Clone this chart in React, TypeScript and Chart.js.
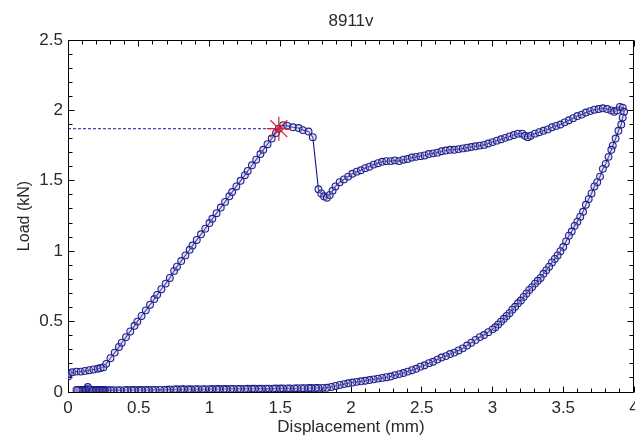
import React, { useEffect, useRef } from "react";
import { Chart, registerables } from "chart.js";

Chart.register(...registerables);

// ---- text ----
const titleText = "8911v";
const xAxisLabel = "Displacement (mm)";
const yAxisLabel = "Load (kN)";

// ---- tick labels ----
const xTickValues = [0, 0.5, 1, 1.5, 2, 2.5, 3, 3.5, 4];
const yTickValues = [0, 0.5, 1, 1.5, 2, 2.5];

// ---- loading branch (0 -> peak) ----
const loadX = [0.00, 0.005, 0.03, 0.06, 0.09, 0.12, 0.15, 0.18, 0.21, 0.23,
  0.25, 0.27, 0.30, 0.33, 0.36, 0.38, 0.41, 0.44, 0.47, 0.49,
  0.52, 0.55, 0.58, 0.61, 0.63, 0.66, 0.69, 0.72, 0.75, 0.77,
  0.80, 0.83, 0.86, 0.88, 0.91, 0.94, 0.97, 1.00, 1.02, 1.05,
  1.08, 1.11, 1.14, 1.16, 1.19, 1.22, 1.25, 1.27, 1.30, 1.33,
  1.36, 1.38, 1.41, 1.44, 1.47, 1.49];
const loadY = [0.11, 0.13, 0.14, 0.145, 0.145, 0.15, 0.155, 0.16, 0.165, 0.17,
  0.175, 0.20, 0.24, 0.28, 0.32, 0.35, 0.39, 0.43, 0.47, 0.50,
  0.54, 0.58, 0.62, 0.66, 0.69, 0.73, 0.77, 0.81, 0.86, 0.89,
  0.93, 0.97, 1.01, 1.04, 1.08, 1.12, 1.16, 1.20, 1.23, 1.27,
  1.31, 1.35, 1.39, 1.42, 1.46, 1.50, 1.54, 1.57, 1.61, 1.65,
  1.69, 1.72, 1.76, 1.80, 1.84, 1.87];

// ---- post-peak, drop and hardening branch ----
const softX = [1.52, 1.55, 1.59, 1.63, 1.66, 1.70, 1.73, 1.77, 1.79, 1.81,
  1.83, 1.85, 1.87, 1.89, 1.92, 1.95, 1.98, 2.01, 2.04, 2.07,
  2.10, 2.13, 2.16, 2.19, 2.22, 2.25, 2.28, 2.31, 2.34, 2.37,
  2.40, 2.43, 2.46, 2.49, 2.52, 2.55, 2.58, 2.61, 2.64, 2.67,
  2.70, 2.73, 2.76, 2.79, 2.82, 2.85, 2.88, 2.91, 2.94, 2.97,
  3.00, 3.03, 3.06, 3.09, 3.12, 3.15, 3.18, 3.21, 3.23, 3.25,
  3.27, 3.30, 3.33, 3.36, 3.39, 3.42, 3.45, 3.48, 3.51, 3.54,
  3.57, 3.60, 3.63, 3.66, 3.69, 3.72, 3.75, 3.78, 3.81, 3.84,
  3.86, 3.88, 3.90, 3.92];
const softY = [1.895, 1.89, 1.88, 1.875, 1.86, 1.85, 1.81, 1.44, 1.41, 1.39,
  1.38, 1.40, 1.43, 1.46, 1.49, 1.51, 1.53, 1.55, 1.565, 1.575,
  1.59, 1.60, 1.615, 1.625, 1.635, 1.64, 1.64, 1.645, 1.64, 1.65,
  1.655, 1.665, 1.67, 1.675, 1.68, 1.69, 1.695, 1.70, 1.71, 1.715,
  1.72, 1.72, 1.725, 1.73, 1.735, 1.74, 1.745, 1.75, 1.755, 1.765,
  1.775, 1.785, 1.795, 1.805, 1.815, 1.825, 1.835, 1.835, 1.82, 1.81,
  1.82, 1.835, 1.845, 1.855, 1.865, 1.88, 1.89, 1.90, 1.915, 1.93,
  1.945, 1.96, 1.97, 1.985, 1.995, 2.005, 2.01, 2.015, 2.01, 2.00,
  1.99, 2.00, 2.025, 2.02];

// ---- unloading branch ----
const unloadX = [3.93, 3.92, 3.91, 3.89, 3.87, 3.85, 3.84, 3.82, 3.80, 3.78,
  3.76, 3.74, 3.72, 3.70, 3.68, 3.66, 3.64, 3.62, 3.60, 3.58,
  3.56, 3.54, 3.52, 3.50, 3.48, 3.46, 3.44, 3.42, 3.40, 3.38,
  3.36, 3.34, 3.32, 3.30, 3.28, 3.26, 3.24, 3.22, 3.20, 3.18,
  3.16, 3.14, 3.12, 3.10, 3.08, 3.06, 3.04, 3.02, 3.00, 2.97,
  2.94, 2.91, 2.88, 2.85, 2.82, 2.79, 2.76, 2.73, 2.70, 2.67,
  2.64, 2.61, 2.58, 2.55, 2.52, 2.49, 2.46, 2.43, 2.40, 2.37,
  2.34, 2.31, 2.28, 2.25, 2.22, 2.19, 2.16, 2.13, 2.10, 2.07,
  2.04, 2.01, 1.98, 1.95, 1.92, 1.89, 1.86];
const unloadY = [1.99, 1.95, 1.90, 1.855, 1.80, 1.75, 1.72, 1.67, 1.62, 1.585,
  1.53, 1.49, 1.46, 1.41, 1.37, 1.33, 1.28, 1.245, 1.21, 1.18,
  1.14, 1.11, 1.07, 1.03, 1.00, 0.97, 0.945, 0.92, 0.89, 0.865,
  0.84, 0.81, 0.79, 0.77, 0.745, 0.725, 0.70, 0.675, 0.65, 0.63,
  0.605, 0.585, 0.56, 0.54, 0.52, 0.50, 0.48, 0.46, 0.445, 0.425,
  0.405, 0.39, 0.37, 0.35, 0.33, 0.31, 0.295, 0.28, 0.27, 0.255,
  0.245, 0.23, 0.215, 0.205, 0.19, 0.18, 0.165, 0.155, 0.145, 0.135,
  0.127, 0.12, 0.11, 0.105, 0.10, 0.095, 0.09, 0.085, 0.08, 0.076,
  0.072, 0.067, 0.062, 0.056, 0.05, 0.043, 0.036];

// ---- return along the bottom ----
const returnX = [1.83, 1.80, 1.77, 1.75, 1.72, 1.70, 1.67, 1.65, 1.62, 1.60,
  1.57, 1.55, 1.52, 1.50, 1.47, 1.45, 1.42, 1.40, 1.37, 1.35,
  1.32, 1.30, 1.27, 1.25, 1.22, 1.20, 1.17, 1.15, 1.12, 1.10,
  1.07, 1.05, 1.02, 1.00, 0.97, 0.95, 0.92, 0.90, 0.87, 0.85,
  0.82, 0.80, 0.77, 0.75, 0.72, 0.70, 0.68, 0.65, 0.62, 0.60,
  0.57, 0.55, 0.52, 0.50, 0.47, 0.45, 0.42, 0.40, 0.37, 0.35,
  0.32, 0.30, 0.28, 0.26, 0.25, 0.24, 0.23, 0.22, 0.21, 0.20,
  0.19, 0.18, 0.17, 0.16, 0.15, 0.14, 0.13, 0.12, 0.11, 0.10,
  0.09, 0.08, 0.07, 0.06];
const returnY = [0.030, 0.029, 0.029, 0.028, 0.028, 0.028, 0.027, 0.027, 0.027, 0.026,
  0.026, 0.026, 0.026, 0.025, 0.025, 0.024, 0.024, 0.024, 0.024, 0.023,
  0.023, 0.023, 0.023, 0.022, 0.022, 0.022, 0.022, 0.022, 0.021, 0.021,
  0.021, 0.021, 0.021, 0.020, 0.020, 0.020, 0.020, 0.020, 0.019, 0.019,
  0.019, 0.019, 0.019, 0.018, 0.018, 0.016, 0.015, 0.015, 0.015, 0.015,
  0.015, 0.014, 0.014, 0.014, 0.014, 0.014, 0.014, 0.013, 0.013, 0.013,
  0.013, 0.013, 0.013, 0.014, 0.014, 0.015, 0.014, 0.015, 0.014, 0.015,
  0.014, 0.015, 0.014, 0.016, 0.020, 0.035, 0.020, 0.015, 0.014, 0.014,
  0.013, 0.013, 0.014, 0.015];

// ---- peak marker and reference line ----
const peakX = [1.49];
const peakY = [1.87];
const peakLineX = [0, 1.49];
const peakLineY = [1.87, 1.87];

const FONT_FAMILY = "'Liberation Sans', Arial, Helvetica, sans-serif";
const TEXT_COLOR = "#2a2a2a";

const toPoints = (xs: number[], ys: number[]) => xs.map((x, i) => ({ x, y: ys[i] }));

const frameTicksPlugin = {
  id: "frameTicks",
  beforeDatasetsDraw(chart: any) {
    const { ctx, chartArea } = chart;
    const xs = chart.scales.x;
    const ys = chart.scales.y;
    const L = Math.floor(chartArea.left) + 0.5;
    const R = Math.floor(chartArea.right) - 0.5;
    const T = Math.floor(chartArea.top) + 0.5;
    const B = Math.floor(chartArea.bottom) + 0.5;
    ctx.save();
    ctx.strokeStyle = "#000";
    ctx.lineWidth = 1;
    ctx.beginPath();
    ctx.rect(L, T, R - L, B - T);
    for (let i = 0; i <= 40; i++) {
      const px = Math.floor(xs.getPixelForValue(i / 10)) + 0.5;
      const len = i % 5 === 0 ? 6 : 4;
      ctx.moveTo(px, B);
      ctx.lineTo(px, B - len);
      ctx.moveTo(px, T);
      ctx.lineTo(px, T + len);
    }
    for (let j = 0; j <= 25; j++) {
      const py = Math.floor(ys.getPixelForValue(j / 10)) + 0.5;
      const len = j % 5 === 0 ? 6 : 4;
      ctx.moveTo(L, py);
      ctx.lineTo(L + len, py);
      ctx.moveTo(R, py);
      ctx.lineTo(R - len, py);
    }
    ctx.stroke();
    ctx.restore();
  },
};

export default function App() {
  const canvasRef = useRef<HTMLCanvasElement | null>(null);

  useEffect(() => {
    if (!canvasRef.current) return;
    const mainX = [...loadX, ...softX, ...unloadX, ...returnX];
    const mainY = [...loadY, ...softY, ...unloadY, ...returnY];
    const tickFont = { family: FONT_FAMILY, size: 17 };

    const chart = new Chart(canvasRef.current, {
      type: "scatter",
      data: {
        datasets: [
          {
            label: "peak",
            data: toPoints(peakX, peakY),
            pointStyle: "star",
            pointRadius: 12,
            pointBorderColor: "#e41e1e",
            pointBorderWidth: 1.2,
            pointBackgroundColor: "#e41e1e",
            showLine: false,
          },
          {
            label: "load",
            data: toPoints(mainX, mainY),
            showLine: true,
            borderColor: "#10108f",
            borderWidth: 1.1,
            pointRadius: 3.4,
            pointBorderWidth: 1.1,
            pointBorderColor: "rgba(22,22,140,0.95)",
            pointBackgroundColor: "rgba(175,175,205,0.35)",
            tension: 0,
          },
          {
            label: "peakLine",
            data: toPoints(peakLineX, peakLineY),
            showLine: true,
            borderColor: "#1a1aa0",
            borderWidth: 1,
            borderDash: [3, 2],
            pointRadius: 0,
          },
        ],
      },
      options: {
        animation: false,
        responsive: false,
        devicePixelRatio: 1,
        events: [],
        layout: { padding: { left: 0, right: 46, top: 0, bottom: 0 } },
        plugins: {
          legend: { display: false },
          tooltip: { enabled: false },
          title: {
            display: true,
            text: titleText,
            fullSize: false,
            color: TEXT_COLOR,
            font: { family: FONT_FAMILY, size: 17, weight: "normal" },
            padding: { top: 10.8, bottom: 8.8 },
          },
        },
        scales: {
          x: {
            type: "linear",
            min: 0,
            max: 4,
            afterBuildTicks: (scale: any) => {
              scale.ticks = xTickValues.map((v) => ({ value: v }));
            },
            afterFit: (scale: any) => {
              scale.height = 52;
            },
            ticks: {
              autoSkip: false,
              maxRotation: 0,
              padding: 6,
              color: TEXT_COLOR,
              font: tickFont,
              callback: (v: any) => String(v),
            },
            grid: { display: false, drawTicks: false },
            border: { display: false },
            title: {
              display: true,
              text: xAxisLabel,
              color: TEXT_COLOR,
              font: { family: FONT_FAMILY, size: 17 },
              padding: { top: 0, bottom: 6.8 },
            },
          },
          y: {
            type: "linear",
            min: 0,
            max: 2.5,
            afterBuildTicks: (scale: any) => {
              scale.ticks = yTickValues.map((v) => ({ value: v }));
            },
            afterFit: (scale: any) => {
              scale.width = 68;
            },
            ticks: {
              autoSkip: false,
              padding: 5,
              color: TEXT_COLOR,
              font: tickFont,
              callback: (v: any) => String(v),
            },
            grid: { display: false, drawTicks: false },
            border: { display: false },
            title: {
              display: true,
              text: yAxisLabel,
              color: TEXT_COLOR,
              font: { family: FONT_FAMILY, size: 16 },
              padding: { top: 15, bottom: 0 },
            },
          },
        },
      },
      plugins: [frameTicksPlugin],
    } as any);

    return () => chart.destroy();
  }, []);

  return (
    <div
      style={{
        position: "fixed",
        left: 0,
        top: 0,
        width: 635,
        height: 444,
        overflow: "hidden",
        background: "#fff",
      }}
    >
      <canvas
        ref={canvasRef}
        width={680}
        height={444}
        style={{ display: "block", width: 680, height: 444 }}
      />
    </div>
  );
}
